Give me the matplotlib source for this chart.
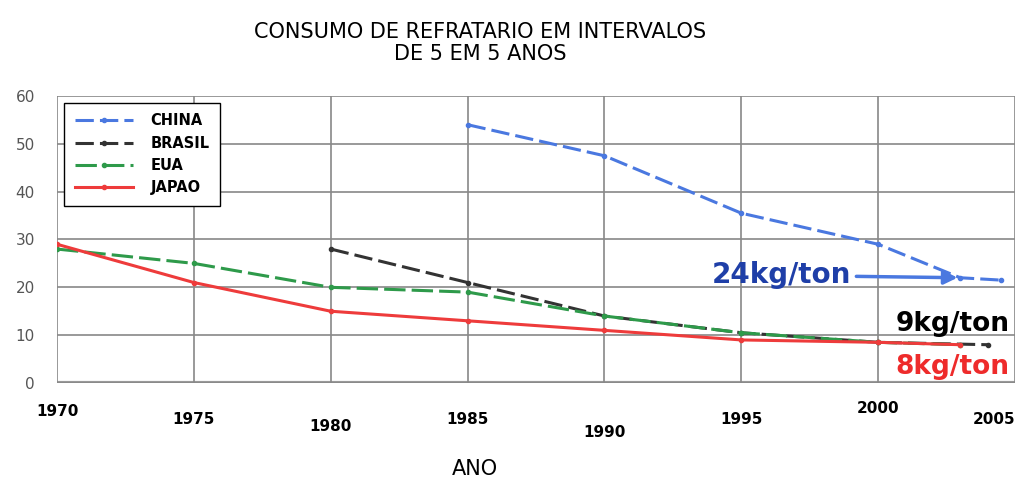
import matplotlib
matplotlib.use("Agg")
import matplotlib.pyplot as plt

# data
anos_china = [1985, 1990, 1995, 2000, 2003, 2004.5]
china = [54, 47.5, 35.5, 29, 22, 21.5]
anos_brasil = [1980, 1985, 1990, 1995, 2000, 2004]
brasil = [28, 21, 14, 10.5, 8.5, 8]
anos_eua = [1970, 1975, 1980, 1985, 1990, 1995, 2000, 2003]
eua = [28, 25, 20, 19, 14, 10.5, 8.5, 8]
anos_japao = [1970, 1975, 1980, 1985, 1990, 1995, 2000, 2003]
japao = [29, 21, 15, 13, 11, 9, 8.5, 8]

xticks = [1970, 1975, 1980, 1985, 1990, 1995, 2000, 2005]
yticks = [0, 10, 20, 30, 40, 50, 60]

fig = plt.figure(figsize=(10.33, 4.91), dpi=100)
ax = fig.add_axes([0.0552, 0.22, 0.9274, 0.5845])

ax.plot(anos_china, china, color="#4a78e0", lw=2.2, ls=(0, (6, 2)), marker="o", ms=3, label="CHINA")
ax.plot(anos_brasil, brasil, color="#333333", lw=2.2, ls=(0, (6, 2)), marker="o", ms=3, label="BRASIL")
ax.plot(anos_eua, eua, color="#2e9a4a", lw=2.2, ls=(0, (7, 2)), marker="o", ms=3, label="EUA")
ax.plot(anos_japao, japao, color="#ee3b3b", lw=2.2, marker="o", ms=3, label="JAPAO")

ax.set_xlim(1970, 2005)
ax.set_ylim(0, 60)
ax.set_xticks(xticks)
ax.set_yticks(yticks)
ax.grid(True, color="#888888", lw=1.2)
for s in ax.spines.values():
    s.set_visible(False)
ax.axhline(0, color="#999999", lw=3, zorder=1)
ax.tick_params(length=0)
ax.set_yticklabels([str(v) for v in yticks], color="#555555", fontsize=11)
ax.tick_params(axis="y", pad=16)
ax.set_xticklabels([str(v) for v in xticks], fontweight="bold", fontsize=11)
pads = [15, 21, 26, 21, 30, 21, 13, 21]
for t, p in zip(ax.xaxis.get_major_ticks(), pads):
    t.set_pad(p)
ax.get_xticklabels()[-1].set_horizontalalignment("right")

leg = ax.legend(loc="upper left", bbox_to_anchor=(0.0, 1.0), fancybox=False,
                edgecolor="black", framealpha=1, handlelength=4,
                borderpad=0.7, labelspacing=0.5, handletextpad=1.2,
                prop={"weight": "bold", "size": 10.5})

ax.annotate("24kg/ton", xy=(2003, 22), xytext=(1999, 22.5), color="#1f3fa8",
            fontsize=20, fontweight="bold", ha="right", va="center",
            arrowprops=dict(arrowstyle="-|>", color="#4a78e0", lw=2.5))
ax.text(2004.8, 12.3, "9kg/ton", color="black", fontsize=19, fontweight="bold",
        ha="right", va="center")
ax.text(2004.8, 3.3, "8kg/ton", color="#ee2b2b", fontsize=19, fontweight="bold",
        ha="right", va="center")

fig.text(0.465, 0.913, "CONSUMO DE REFRATARIO EM INTERVALOS\nDE 5 EM 5 ANOS",
         ha="center", va="center", fontsize=15, linespacing=1.1)
fig.text(0.46, 0.025, "ANO", ha="center", va="bottom", fontsize=15)

fig.savefig("out.png", dpi=100)
